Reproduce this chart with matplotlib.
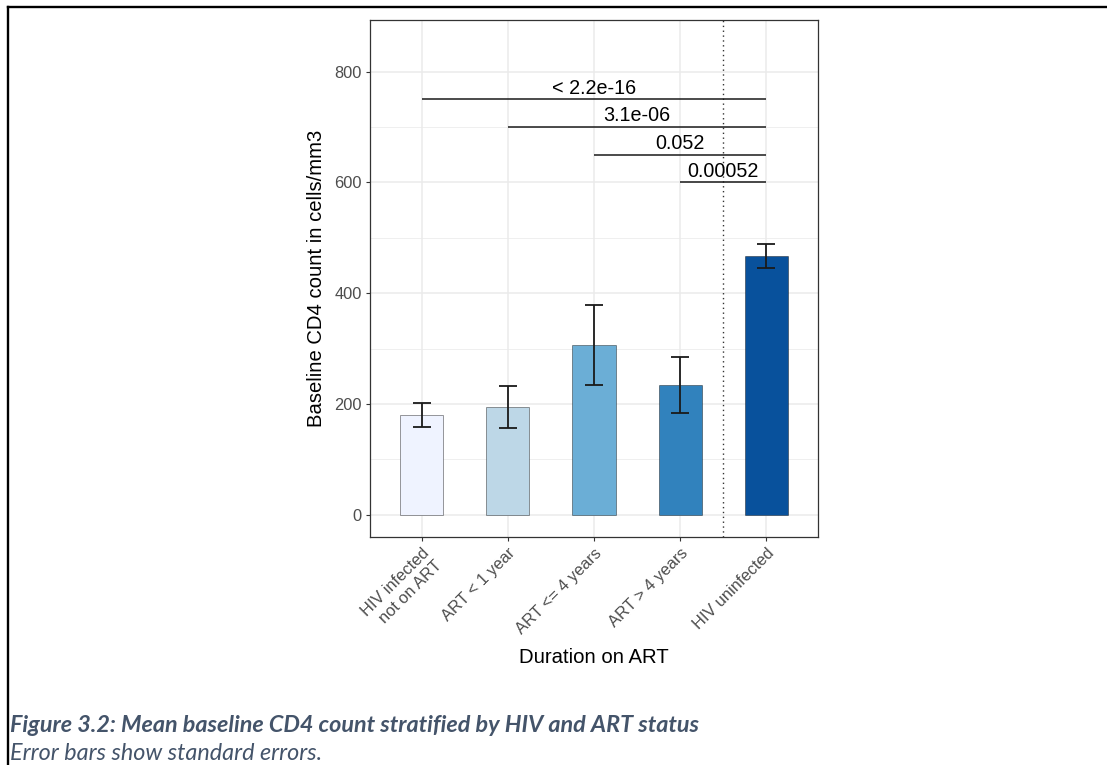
#!/usr/bin/env python3
"""Bar chart of mean baseline CD4 count by HIV / ART group, with SE bars and p-value brackets."""

import matplotlib

matplotlib.use("Agg")
import matplotlib.pyplot as plt
from matplotlib.lines import Line2D

# data
groups = ["HIV infected\nnot on ART", "ART < 1 year", "ART <= 4 years", "ART > 4 years", "HIV uninfected"]
mean_cd4 = [180, 195, 306, 234, 467]
se_cd4 = [21, 38, 72, 51, 21]
bar_colors = ["#EFF3FF", "#BDD7E7", "#6BAED6", "#3182BD", "#08519C"]

# pairwise comparisons against the uninfected group
comp_from = [1, 2, 3, 4]
comp_to = [5, 5, 5, 5]
comp_y = [750, 700, 650, 600]
comp_labels = ["< 2.2e-16", "3.1e-06", "0.052", "0.00052"]

y_ticks = [0, 200, 400, 600, 800]
y_minor = [100, 300, 500, 700]

plt.rcParams["font.family"] = ["Liberation Sans", "DejaVu Sans"]

fig = plt.figure(figsize=(11.07, 7.65), dpi=100)
ax = fig.add_axes([370 / 1107, 1 - 537 / 765, (818 - 370) / 1107, (537 - 20) / 765])

grid_col = "#EBEBEB"
x = list(range(1, len(groups) + 1))
for v in y_ticks:
    ax.axhline(v, color=grid_col, lw=1.1, zorder=0)
for v in y_minor:
    ax.axhline(v, color=grid_col, lw=0.55, zorder=0)
for xi in x:
    ax.axvline(xi, color=grid_col, lw=1.1, zorder=0)

ax.bar(x, mean_cd4, width=0.5, color=bar_colors,
       edgecolor=(0, 0, 0, 0.4), linewidth=0.7, zorder=2)
ax.errorbar(x, mean_cd4, yerr=se_cd4, fmt="none", ecolor="#1a1a1a",
            elinewidth=1.3, capsize=6.2, capthick=1.3, zorder=3)

ax.axvline(4.5, color="#333333", lw=1.0, linestyle=(0, (1, 2.5)), zorder=3)

for x0, x1, yv, lab in zip(comp_from, comp_to, comp_y, comp_labels):
    ax.plot([x0, x1], [yv, yv], color="#1a1a1a", lw=1.1, zorder=4,
            solid_capstyle="butt")
    ax.text((x0 + x1) / 2, yv + 3, lab, ha="center", va="bottom",
            fontsize=14.2, color="black", zorder=5)

ax.set_xlim(0.4, 5.6)
ax.set_ylim(-40, 893)
ax.set_yticks(y_ticks)
ax.set_xticks(x)
ax.set_xticklabels(groups, rotation=45, ha="right", rotation_mode="anchor",
                   multialignment="right")
ax.tick_params(axis="both", labelsize=11.8, labelcolor="#4D4D4D",
               color="#333333", length=3, width=0.8, pad=3)
for sp in ax.spines.values():
    sp.set_color("#333333")
    sp.set_linewidth(0.9)

ax.set_ylabel("Baseline CD4 count in cells/mm3", fontsize=14.6, labelpad=6)
ax.set_xlabel("Duration on ART", fontsize=14.6, labelpad=8)

# document frame lines
fig.add_artist(Line2D([7.5 / 1107, 1], [1 - 7 / 765, 1 - 7 / 765],
                      transform=fig.transFigure, color="black", lw=1.7))
fig.add_artist(Line2D([8 / 1107, 8 / 1107], [0, 1 - 7 / 765],
                      transform=fig.transFigure, color="black", lw=1.7))

cap_col = "#44546A"
fig.text(10 / 1107, 1 - 726 / 765,
         "Figure 3.2: Mean baseline CD4 count stratified by HIV and ART status",
         fontsize=16.8, fontweight="bold", fontstyle="italic", color=cap_col,
         family="Lato", va="center", ha="left")
fig.text(10 / 1107, 1 - 753 / 765, "Error bars show standard errors.",
         fontsize=16.8, fontstyle="italic", color=cap_col,
         family="Lato", va="center", ha="left")

fig.savefig("out.png", dpi=100)
